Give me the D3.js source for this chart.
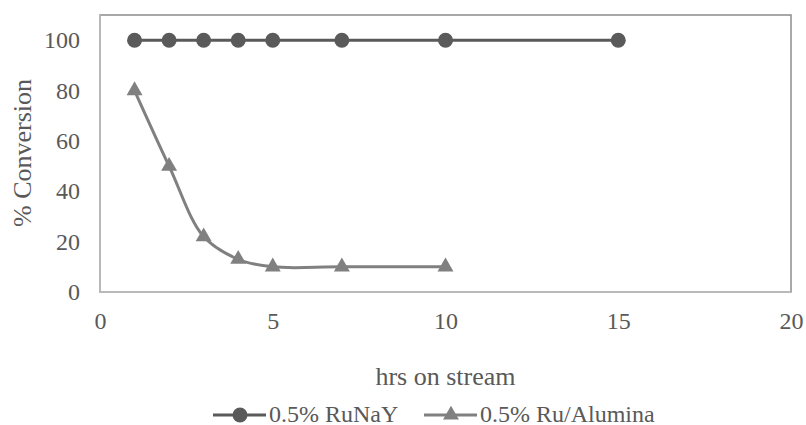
<!DOCTYPE html>
<html>
<head>
<meta charset="utf-8">
<script src="https://cdn.jsdelivr.net/npm/d3@7"></script>
</head>
<body style="margin:0; background:#fff">
<div id="chart-area"></div>
<script>
const margin = { top: 15, right: 15, bottom: 133, left: 100 };
const width = 806 - margin.left - margin.right;
const height = 425 - margin.top - margin.bottom;

const hours = [1, 2, 3, 4, 5, 7, 10, 15];
const ruNaY = [100, 100, 100, 100, 100, 100, 100, 100];
const aluminaHours = [1, 2, 3, 4, 5, 7, 10];
const ruAlumina = [80, 50, 22, 13, 10, 10, 10];
const xTicks = [0, 5, 10, 15, 20];
const yTicks = [0, 20, 40, 60, 80, 100];
const seriesNames = ["0.5% RuNaY", "0.5% Ru/Alumina"];

const font = "Liberation Serif";
const textColor = "#595959";

const svg = d3.select("#chart-area")
  .append("svg")
  .attr("width", 806)
  .attr("height", 425);

const g = svg.append("g")
  .attr("transform", `translate(${margin.left}, ${margin.top})`);

const x = d3.scaleLinear().domain([0, 20]).range([0, width]);
const y = d3.scaleLinear().domain([0, 110]).range([height, 0]);

// plot frame
g.append("rect")
  .attr("width", width).attr("height", height)
  .attr("fill", "none").attr("stroke", "#8c8c8c").attr("stroke-width", 1.5);

// axis lines (lighter)
g.append("line").attr("x1", 0).attr("x2", width).attr("y1", height).attr("y2", height)
  .attr("stroke", "#bfbfbf").attr("stroke-width", 1.5);
g.append("line").attr("x1", 0).attr("x2", 0).attr("y1", 0).attr("y2", height)
  .attr("stroke", "#bfbfbf").attr("stroke-width", 1.5);

const xAxis = d3.axisBottom(x).tickValues(xTicks).tickSize(0);
const yAxis = d3.axisLeft(y).tickValues(yTicks).tickSize(0).tickPadding(20);

const xAxisGroup = g.append("g").attr("transform", `translate(0,${height})`).call(xAxis);
const yAxisGroup = g.append("g").call(yAxis);
[xAxisGroup, yAxisGroup].forEach(a => {
  a.select(".domain").remove();
  a.selectAll("text")
    .attr("font-family", font).attr("font-size", 24).attr("fill", textColor);
});
xAxisGroup.selectAll("text").attr("dy", null).attr("y", 37);

// series
const line = d3.line().x(d => x(d[0])).y(d => y(d[1]));
const smooth = d3.line().x(d => x(d[0])).y(d => y(d[1])).curve(d3.curveCatmullRom.alpha(0.5));

const s1 = hours.map((h, i) => [h, ruNaY[i]]);
const s2 = aluminaHours.map((h, i) => [h, ruAlumina[i]]);

const c1 = "#5a5a5a", c2 = "#808080";
const tri = d3.symbol().type(d3.symbolTriangle).size(110);

g.append("path").datum(s2).attr("d", smooth)
  .attr("fill", "none").attr("stroke", c2).attr("stroke-width", 3);
g.selectAll(".tri").data(s2).enter().append("path")
  .attr("d", tri)
  .attr("transform", d => `translate(${x(d[0])},${y(d[1])})`)
  .attr("fill", c2);

g.append("path").datum(s1).attr("d", line)
  .attr("fill", "none").attr("stroke", c1).attr("stroke-width", 3);
g.selectAll(".dot").data(s1).enter().append("circle")
  .attr("cx", d => x(d[0])).attr("cy", d => y(d[1])).attr("r", 7.5)
  .attr("fill", c1);

// axis titles
svg.append("text")
  .attr("x", margin.left + width / 2).attr("y", 385)
  .attr("text-anchor", "middle")
  .attr("font-family", font).attr("font-size", 26).attr("fill", textColor)
  .text("hrs on stream");

svg.append("text")
  .attr("transform", `translate(31, 153) rotate(-90)`)
  .attr("text-anchor", "middle")
  .attr("font-family", font).attr("font-size", 26).attr("fill", textColor)
  .text("% Conversion");

// legend
const legend = svg.append("g").attr("transform", "translate(0,415)");
const items = [
  { name: seriesNames[0], x0: 213, color: c1, marker: "circle" },
  { name: seriesNames[1], x0: 424, color: c2, marker: "triangle" }
];
items.forEach(it => {
  legend.append("line").attr("x1", it.x0).attr("x2", it.x0 + 53)
    .attr("stroke", it.color).attr("stroke-width", 3);
  if (it.marker === "circle") {
    legend.append("circle").attr("cx", it.x0 + 27).attr("cy", 0).attr("r", 7.5).attr("fill", it.color);
  } else {
    legend.append("path").attr("d", tri).attr("transform", `translate(${it.x0 + 27},0)`).attr("fill", it.color);
  }
  legend.append("text").attr("x", it.x0 + 56).attr("y", 7)
    .attr("font-family", font).attr("font-size", 24).attr("fill", textColor).text(it.name);
});
</script>
</body>
</html>
